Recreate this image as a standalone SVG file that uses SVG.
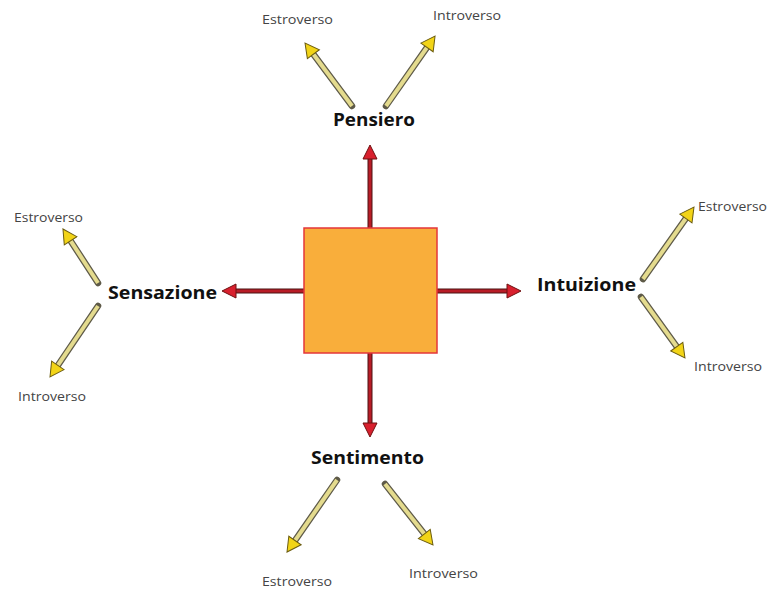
<svg xmlns="http://www.w3.org/2000/svg" width="773" height="597" viewBox="0 0 773 597">
<style>
.bg{fill:#ffffff}
.main{font-family:"Open Sans","DejaVu Sans",sans-serif;font-weight:700;font-size:17.5px;fill:#111}
.sub{font-family:"Open Sans","DejaVu Sans",sans-serif;font-size:12.5px;fill:#444}
.yo{stroke:#5e5a48;stroke-width:6.5;stroke-linecap:round;fill:none}
.yi{stroke:#e4db8e;stroke-width:4;fill:none;marker-end:url(#yh)}
.ro{stroke:#4a1212;stroke-width:5;fill:none}
.ri{stroke:#b81c26;stroke-width:3;fill:none;marker-end:url(#rh)}
</style>
<defs>
<marker id="yh" markerUnits="userSpaceOnUse" viewBox="0 0 18 18" markerWidth="18" markerHeight="18" refX="5" refY="9" orient="auto">
<path d="M1,1.5 L15,9 L1,16.5 z" fill="#f2d417" stroke="#6b5c10" stroke-width="1"/>
</marker>
<marker id="rh" markerUnits="userSpaceOnUse" viewBox="0 0 16 16" markerWidth="16" markerHeight="16" refX="5" refY="8" orient="auto">
<path d="M1,1 L15,8 L1,15 z" fill="#d8202e" stroke="#6e1010" stroke-width="1"/>
</marker>
</defs>
<rect class="bg" x="0" y="0" width="773" height="597"/>

<g id="connectors">
<g id="red-arrows">
<line class="ro" x1="370" y1="228" x2="370" y2="155"/><line class="ri" x1="370" y1="228" x2="370" y2="155"/>
<line class="ro" x1="437" y1="291" x2="511" y2="291"/><line class="ri" x1="437" y1="291" x2="511" y2="291"/>
<line class="ro" x1="304" y1="291" x2="232" y2="291"/><line class="ri" x1="304" y1="291" x2="232" y2="291"/>
<line class="ro" x1="370" y1="353" x2="370" y2="427"/><line class="ri" x1="370" y1="353" x2="370" y2="427"/>
</g>
<g id="yellow-arrows">
<line class="yo" x1="352" y1="106" x2="311" y2="51"/><line class="yi" x1="352" y1="106" x2="311" y2="51"/>
<line class="yo" x1="386" y1="106" x2="429.3" y2="44.2"/><line class="yi" x1="386" y1="106" x2="429.3" y2="44.2"/>
<line class="yo" x1="98" y1="283" x2="68.4" y2="237.4"/><line class="yi" x1="98" y1="283" x2="68.4" y2="237.4"/>
<line class="yo" x1="98" y1="306" x2="55.6" y2="368.7"/><line class="yi" x1="98" y1="306" x2="55.6" y2="368.7"/>
<line class="yo" x1="643" y1="279" x2="688.2" y2="215.2"/><line class="yi" x1="643" y1="279" x2="688.2" y2="215.2"/>
<line class="yo" x1="641" y1="297" x2="679.1" y2="349.9"/><line class="yi" x1="641" y1="297" x2="679.1" y2="349.9"/>
<line class="yo" x1="337" y1="480" x2="292.7" y2="543.8"/><line class="yi" x1="337" y1="480" x2="292.7" y2="543.8"/>
<line class="yo" x1="385" y1="484" x2="426.8" y2="537.1"/><line class="yi" x1="385" y1="484" x2="426.8" y2="537.1"/>
</g>
</g>

<g id="center">
<rect x="304" y="228" width="133" height="125" fill="#f9ae3b" stroke="#e4363a" stroke-width="1.5"/>
</g>

<g id="pensiero">
<text class="main" x="333" y="126" textLength="82" lengthAdjust="spacingAndGlyphs">Pensiero</text>
<text class="sub" x="262" y="24" textLength="71" lengthAdjust="spacingAndGlyphs">Estroverso</text>
<text class="sub" x="433" y="20" textLength="68" lengthAdjust="spacingAndGlyphs">Introverso</text>
</g>
<g id="sensazione">
<text class="main" x="108" y="299" textLength="109" lengthAdjust="spacingAndGlyphs">Sensazione</text>
<text class="sub" x="14" y="222" textLength="69" lengthAdjust="spacingAndGlyphs">Estroverso</text>
<text class="sub" x="18" y="401" textLength="68" lengthAdjust="spacingAndGlyphs">Introverso</text>
</g>
<g id="intuizione">
<text class="main" x="537" y="291" textLength="99" lengthAdjust="spacingAndGlyphs">Intuizione</text>
<text class="sub" x="698" y="211" textLength="69" lengthAdjust="spacingAndGlyphs">Estroverso</text>
<text class="sub" x="694" y="371" textLength="68" lengthAdjust="spacingAndGlyphs">Introverso</text>
</g>
<g id="sentimento">
<text class="main" x="311" y="464" textLength="113" lengthAdjust="spacingAndGlyphs">Sentimento</text>
<text class="sub" x="262" y="586" textLength="70" lengthAdjust="spacingAndGlyphs">Estroverso</text>
<text class="sub" x="409" y="578" textLength="69" lengthAdjust="spacingAndGlyphs">Introverso</text>
</g>
</svg>
